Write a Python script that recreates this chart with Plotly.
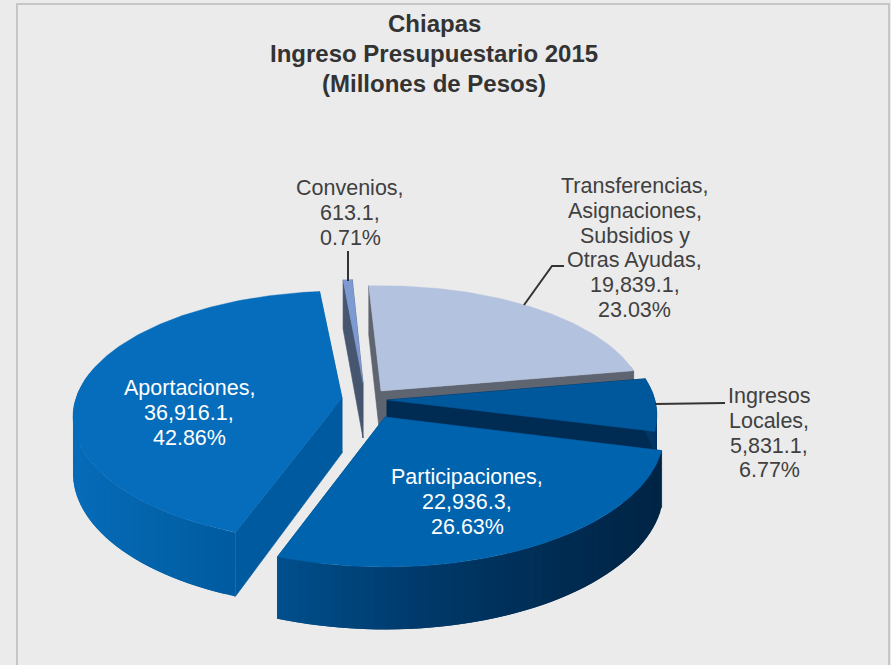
import math
import plotly.graph_objects as go

categories = [["Transferencias,", "Asignaciones,", "Subsidios y", "Otras Ayudas,"],
              ["Ingresos", "Locales,"], ["Participaciones,"], ["Aportaciones,"], ["Convenios,"]]
values = [19839.1, 5831.1, 22936.3, 36916.1, 613.1]
title_lines = ["Chiapas", "Ingreso Presupuestario 2015", "(Millones de Pesos)"]

# drawing style / camera (one entry per slice, same order as values)
W, H = 891, 665
START = -3.0
DEPTH = 55
persp = [0.12, 0.12, 0.12, 0.15, 0.12]
apex = [(381, 391), (387, 400), (385, 417), (342, 398), (363, 383)]
radii = [(262, 118), (268, 124), (277, 132), (266, 123), (230, 116)]
top_col = ["#b3c2de", "#00589c", "#0063ad", "#066dbc", "#7d9bd2"]
cut_col = ["#5e6570", "#002b52", "#00467d", "#005a9f", "#47566f"]
wall_stops = [
    [(600, (94, 101, 112)), (640, (94, 101, 112))],
    [(640, (0, 60, 110)), (660, (0, 50, 95))],
    [(278, (0, 80, 142)), (420, (0, 58, 108)), (560, (0, 44, 82)), (660, (0, 36, 68))],
    [(70, (8, 108, 186)), (150, (3, 100, 172)), (240, (0, 90, 160))],
    [(340, (71, 86, 111)), (360, (71, 86, 111))],
]
draw_order = [4, 0, 3, 1, 2]
text_col = "#404040"
text_pos = [(634.5, 186, text_col), (769, 396, text_col), (467, 477, "#ffffff"),
            (189, 388, "#ffffff"), (350, 188, text_col)]
LINE_STEP = 24.8
leaders = [([348, 348], [251, 281]), ([524, 552, 564], [305, 266, 266]), ([655, 725], [404, 403])]

total = sum(values)
spans = []
a = START
for v in values:
    b = a + 360 * v / total
    spans.append((a, b))
    a = b


def proj(i, deg, r, down):
    t = math.radians(deg)
    X, Y = r * math.sin(t), -r * math.cos(t)
    s = 1 / (1 - persp[i] * Y)
    rx, ry = radii[i]
    return apex[i][0] + rx * X * s, apex[i][1] + ry * Y * s + down * DEPTH * s


def wall_colour(i, x):
    st = wall_stops[i]
    if x <= st[0][0]:
        c = st[0][1]
    elif x >= st[-1][0]:
        c = st[-1][1]
    else:
        for (x0, c0), (x1, c1) in zip(st, st[1:]):
            if x0 <= x <= x1:
                f = (x - x0) / (x1 - x0)
                c = tuple(c0[k] + f * (c1[k] - c0[k]) for k in range(3))
                break
    return "rgb(%d,%d,%d)" % tuple(round(q) for q in c)


fig = go.Figure()


def poly(pts, colour, lw=0.6):
    xs = [p[0] for p in pts] + [pts[0][0]]
    ys = [p[1] for p in pts] + [pts[0][1]]
    fig.add_trace(go.Scatter(x=xs, y=ys, mode="lines", fill="toself", fillcolor=colour,
                             line=dict(color=colour, width=lw), hoverinfo="skip", showlegend=False))


for i in draw_order:
    a0, a1 = spans[i]
    # straight cut faces
    for edge in (a0, a1):
        poly([proj(i, 0, 0, 0), proj(i, edge, 1, 0), proj(i, edge, 1, 1), proj(i, 0, 0, 1)], cut_col[i])
    # rounded outer wall in overlapping strips for the shading
    n = max(2, int((a1 - a0) / 2))
    for k in range(n):
        d0 = a0 + (a1 - a0) * k / n
        d1 = a0 + (a1 - a0) * (k + 1) / n
        if math.cos(math.radians((d0 + d1) / 2)) > 0.2:
            continue
        d2 = min(a1, d1 + (a1 - a0) / n)
        pts = [proj(i, d0, 1, 0), proj(i, d2, 1, 0), proj(i, d2, 1, 1), proj(i, d0, 1, 1)]
        poly(pts, wall_colour(i, proj(i, d0, 1, 0)[0]), lw=0)
    # top surface
    m = max(2, int(a1 - a0))
    arc = [proj(i, a0 + (a1 - a0) * k / m, 1, 0) for k in range(m + 1)]
    poly([proj(i, 0, 0, 0)] + arc, top_col[i], lw=0.4)

for lx, ly in leaders:
    fig.add_trace(go.Scatter(x=lx, y=ly, mode="lines", line=dict(color="#333333", width=2),
                             hoverinfo="skip", showlegend=False))

annotations = []
for i, name in enumerate(categories):
    tx, ty, col = text_pos[i]
    lines = name + [f"{values[i]:,.1f},", f"{100 * values[i] / total:.2f}%"]
    for j, line in enumerate(lines):
        annotations.append(dict(x=tx, y=ty + j * LINE_STEP, xref="x", yref="y", text=line, showarrow=False,
                                xanchor="center", yanchor="middle",
                                font=dict(family="Liberation Sans", size=21.5, color=col)))
for line, ty in zip(title_lines, (23, 53, 83)):
    annotations.append(dict(x=434, y=ty, xref="x", yref="y", text=f"<b>{line}</b>", showarrow=False,
                            xanchor="center", yanchor="middle",
                            font=dict(family="Liberation Sans", size=24, color="#333333")))

fig.update_layout(
    width=W, height=H, autosize=False, margin=dict(l=0, r=0, t=0, b=0),
    paper_bgcolor="#ededed", plot_bgcolor="#ebebeb", showlegend=False,
    xaxis=dict(range=[0, W], visible=False, fixedrange=True),
    yaxis=dict(range=[H, 0], visible=False, fixedrange=True),
    annotations=annotations,
    shapes=[dict(type="rect", xref="x", yref="y", x0=17, y0=4, x1=889, y1=H + 5,
                 line=dict(color="#c6c6c6", width=2), layer="below")],
)
fig.write_html("out.html", config=dict(displayModeBar=False),
               post_script="document.body.style.margin='0';document.body.style.overflow='hidden';")
